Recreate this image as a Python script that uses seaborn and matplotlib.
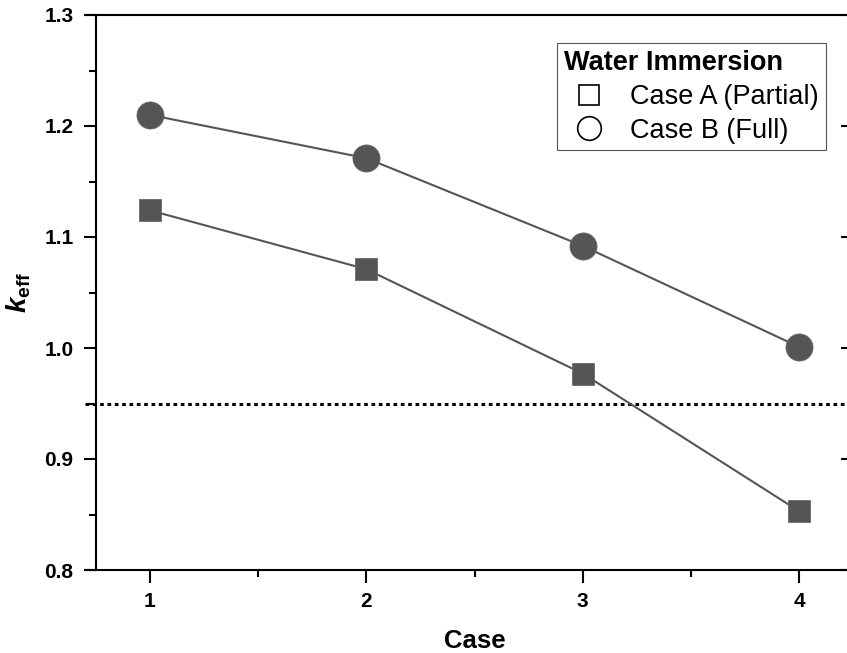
import numpy as np
import pandas as pd
import matplotlib
matplotlib.use("Agg")
import matplotlib.pyplot as plt
import seaborn as sns
from matplotlib.lines import Line2D
from matplotlib.ticker import MultipleLocator

cases = [1, 2, 3, 4]
case_a = [1.124, 1.071, 0.977, 0.853]
case_b = [1.210, 1.171, 1.092, 1.001]
limit = 0.95
labels = ["Case A (Partial)", "Case B (Full)"]

sns.set_style("ticks")
plt.rcParams['font.family'] = ['Liberation Sans', 'DejaVu Sans']
plt.rcParams['mathtext.fontset'] = 'custom'
plt.rcParams['mathtext.it'] = 'Liberation Sans:bold:italic'
plt.rcParams['mathtext.rm'] = 'Liberation Sans:bold'
plt.rcParams['mathtext.bf'] = 'Liberation Sans:bold'
for k in ['text.color', 'axes.labelcolor', 'xtick.color', 'ytick.color', 'axes.edgecolor']:
    plt.rcParams[k] = 'black'

fig = plt.figure(figsize=(8.47, 6.53), dpi=100)
ax = fig.add_axes([85/847, 83/653, 779/847, 555/653])

gray = "#555555"
df_a = pd.DataFrame({"Case": cases, "keff": case_a})
df_b = pd.DataFrame({"Case": cases, "keff": case_b})
sns.lineplot(data=df_a, x="Case", y="keff", marker="s", color=gray, linewidth=1.5,
             markersize=16.5, markeredgewidth=0.6, markeredgecolor="#6a6a6a", ax=ax, legend=False)
sns.lineplot(data=df_b, x="Case", y="keff", marker="o", color=gray, linewidth=1.5,
             markersize=19.5, markeredgewidth=0.6, markeredgecolor="#6a6a6a", ax=ax, legend=False)
ax.axhline(limit, color="black", linestyle=(0, (1.2, 1.2)), linewidth=2.2, zorder=1)

ax.set_xlim(0.7, 4.3)
ax.set_ylim(0.8, 1.3)
ax.spines['top'].set_visible(True)
ax.spines['right'].set_visible(False)
ax.spines['left'].set_position(('data', 0.75))
for s in ['left', 'bottom', 'top']:
    ax.spines[s].set_linewidth(1.5)
    ax.spines[s].set_color('black')

ax.set_xticks(cases)
ax.xaxis.set_minor_locator(MultipleLocator(0.5))
ax.yaxis.set_major_locator(MultipleLocator(0.1))
ax.yaxis.set_minor_locator(MultipleLocator(0.05))
ax.tick_params(axis='both', which='major', direction='out', length=9, width=1.5,
               labelsize=15, pad=7, color='black', labelcolor='black')
ax.tick_params(axis='both', which='minor', direction='out', length=5, width=1.5, color='black')
ax.tick_params(axis='x', which='both', top=False)
for lab in ax.get_xticklabels() + ax.get_yticklabels():
    lab.set_fontweight('bold')

# right-side ticks (no spine) near figure edge
sec = ax.secondary_yaxis((841 - 85) / 779)
sec.spines['right'].set_visible(False)
sec.yaxis.set_major_locator(MultipleLocator(0.1))
sec.tick_params(axis='y', which='major', direction='out', length=5, width=1.5,
                labelright=False, color='black')
sec.tick_params(axis='y', which='minor', length=0)

ax.set_xlabel("Case", fontsize=18.5, fontweight='bold', labelpad=13, color='black')
ax.set_ylabel(r"$k_{\mathrm{eff}}$", fontsize=20, color='black')
ax.yaxis.set_label_coords((33 - 85) / 779, 0.5)

handles = [Line2D([], [], marker='s', linestyle='None', markerfacecolor='none',
                  markeredgecolor='black', markersize=15, markeredgewidth=1.2),
           Line2D([], [], marker='o', linestyle='None', markerfacecolor='none',
                  markeredgecolor='black', markersize=17, markeredgewidth=1.2)]
leg = ax.legend(handles, labels, title="Water Immersion", loc='upper left',
                bbox_to_anchor=((557 - 85) / 779, (653 - 43 - 83) / 555),
                fontsize=19.5, title_fontproperties={'weight': 'bold', 'size': 19.5},
                frameon=True, fancybox=False, edgecolor='#555555', framealpha=1,
                borderpad=0.25, labelspacing=0.28, handletextpad=0.6, handlelength=1.85,
                borderaxespad=0)
leg.get_frame().set_linewidth(0.8)
leg._legend_box.align = "left"
leg._legend_box.sep = 6
for t in leg.get_texts():
    t.set_color('black')
leg.get_title().set_color('black')

fig.savefig("out.png", dpi=100)
